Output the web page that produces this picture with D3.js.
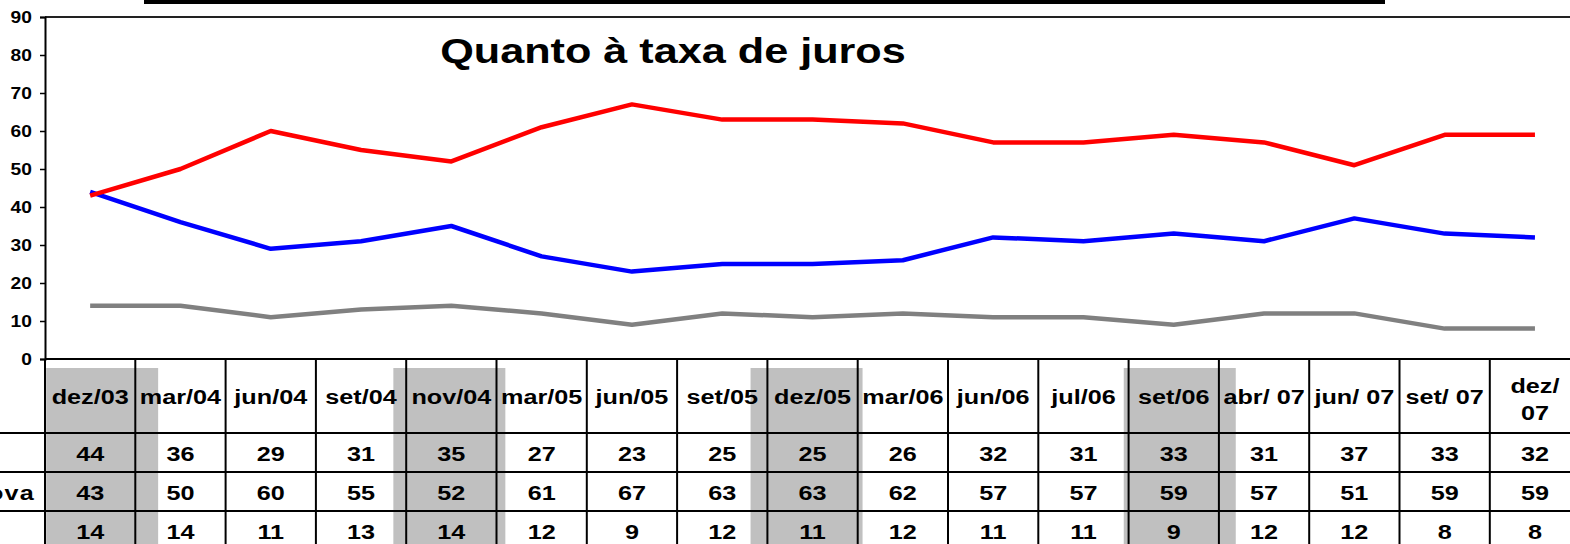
<!DOCTYPE html>
<html>
<head>
<meta charset="utf-8">
<script src="https://cdn.jsdelivr.net/npm/d3@7/dist/d3.min.js"></script>
<style>
    body { margin: 0; background: #fff; }
    svg { display: block; }
    text { font-family: "Liberation Sans", Arial, sans-serif; font-weight: bold; fill: #000; }
</style>
</head>
<body>
<svg id="chart" width="1570" height="544"></svg>
<script>
'use strict';

var TITLE = "Quanto à taxa de juros";

var periods = ["dez/03", "mar/04", "jun/04", "set/04", "nov/04", "mar/05", "jun/05", "set/05",
    "dez/05", "mar/06", "jun/06", "jul/06", "set/06", "abr/ 07", "jun/ 07", "set/ 07", "dez/ 07"];

var aprova    = [44, 36, 29, 31, 35, 27, 23, 25, 25, 26, 32, 31, 33, 31, 37, 33, 32];
var desaprova = [43, 50, 60, 55, 52, 61, 67, 63, 63, 62, 57, 57, 59, 57, 51, 59, 59];
var nsnr      = [14, 14, 11, 13, 14, 12,  9, 12, 11, 12, 11, 11,  9, 12, 12,  8,  8];

var seriesNames = ["Aprova", "Desaprova", "NS/NR"];
var highlighted = ["dez/03", "nov/04", "dez/05", "set/06"];
var yTicks = [0, 10, 20, 30, 40, 50, 60, 70, 80, 90];

// layout
var W = 1570, H = 544;
var plotLeft = 45, colW = 90.3, plotTop = 17, plotBottom = 359;
var headerH = 74, rowH = 39;
var cellFont = 21;
var stretch = 1.2;   // text in the original is horizontally stretched
var colors = ["#0000ff", "#ff0000", "#808080"];
var shadeShift = {"dez/03": 12, "nov/04": -2, "dez/05": -6, "set/06": 6};

var svg = d3.select("#chart");

var x = d3.scaleBand().domain(periods).range([plotLeft, plotLeft + colW * periods.length]);
var y = d3.scaleLinear().domain([0, 90]).range([plotBottom, plotTop]);

function cx(p) {
    return x(p) + x.bandwidth() / 2;
}

function stretchedText(g, tx, ty, str, size, anchor) {
    return g.append("text")
        .attr("transform", "translate(" + tx + "," + ty + ") scale(" + stretch + ",1)")
        .attr("text-anchor", anchor || "middle")
        .style("font-size", size + "px")
        .text(str);
}

// cut-off banner at the very top
svg.append("rect")
    .attr("x", 144).attr("y", -2)
    .attr("width", 1241).attr("height", 6)
    .attr("fill", "#000");

// plot frame top
svg.append("line")
    .attr("x1", plotLeft).attr("x2", W)
    .attr("y1", plotTop).attr("y2", plotTop)
    .attr("stroke", "#222").attr("stroke-width", 2);

stretchedText(svg, 673, 63, TITLE, 36, "middle");

// y axis
var yAxis = svg.append("g")
    .attr("transform", "translate(" + plotLeft + ",0)")
    .call(d3.axisLeft(y).tickValues(yTicks).tickSize(5).tickPadding(6));
yAxis.select(".domain").attr("stroke", "#000").attr("stroke-width", 2);
yAxis.selectAll(".tick line").attr("stroke", "#000").attr("stroke-width", 1.5);
yAxis.selectAll(".tick text")
    .attr("fill", "#000")
    .style("font-size", "16px")
    .style("font-family", "'Liberation Sans', Arial, sans-serif")
    .attr("transform", "scale(" + stretch + ",1)");
yAxis.attr("font-family", null).attr("font-size", null);

// table
var gTable = svg.append("g").attr("class", "table");
var rowTop = [plotBottom + headerH, plotBottom + headerH + rowH, plotBottom + headerH + rowH * 2];

gTable.selectAll("rect.shade")
    .data(highlighted)
    .enter()
    .append("rect")
    .attr("class", "shade")
    .attr("x", function (d) { return Math.max(plotLeft + 1, cx(d) + shadeShift[d] - 56); })
    .attr("width", function (d) {
        var x0 = cx(d) + shadeShift[d] - 56;
        return 112 - Math.max(0, plotLeft + 1 - x0);
    })
    .attr("y", plotBottom + 9)
    .attr("height", H - plotBottom)
    .attr("fill", "#c0c0c0");

gTable.selectAll("line.col")
    .data(periods)
    .enter()
    .append("line")
    .attr("class", "col")
    .attr("x1", function (d) { return x(d); })
    .attr("x2", function (d) { return x(d); })
    .attr("y1", plotBottom).attr("y2", H)
    .attr("stroke", "#000").attr("stroke-width", 2);

gTable.selectAll("line.row")
    .data(rowTop)
    .enter()
    .append("line")
    .attr("class", "row")
    .attr("x1", 0).attr("x2", W)
    .attr("y1", function (d) { return d; })
    .attr("y2", function (d) { return d; })
    .attr("stroke", "#000").attr("stroke-width", 2);

svg.append("line")
    .attr("x1", plotLeft).attr("x2", W)
    .attr("y1", plotBottom).attr("y2", plotBottom)
    .attr("stroke", "#000").attr("stroke-width", 2);

// header labels, wrapped when the visible cell is too narrow
periods.forEach(function (p) {
    var mid = plotBottom + headerH / 2;
    var t = stretchedText(gTable, cx(p), mid + 8, p, cellFont);
    var visible = Math.min(x(p) + x.bandwidth(), W) - x(p);
    if (t.node().getComputedTextLength() * stretch + 6 > visible && p.indexOf(" ") > 0) {
        var parts = p.split(" ");
        t.remove();
        stretchedText(gTable, cx(p), mid - 3, parts[0], cellFont);
        stretchedText(gTable, cx(p), mid + 24, parts[1], cellFont);
    }
});

var series = [aprova, desaprova, nsnr];

series.forEach(function (values, r) {
    var mid = rowTop[r] + rowH / 2;
    values.forEach(function (v, i) {
        stretchedText(gTable, cx(periods[i]), mid + 8, v, cellFont);
    });
});

// row names, cut off by the left edge like in the source
var labels = seriesNames.map(function (name, r) {
    return stretchedText(gTable, 0, rowTop[r] + rowH / 2 + 8, name, cellFont, "start")
        .style("letter-spacing", "1px");
});
var longest = d3.max(labels, function (t) { return t.node().getComputedTextLength(); });
var labelX = 35 - longest * stretch;
labels.forEach(function (t, r) {
    t.attr("transform", "translate(" + labelX + "," + (rowTop[r] + rowH / 2 + 8) + ") scale(" + stretch + ",1)");
});

// lines
var line = d3.line()
    .x(function (d, i) { return cx(periods[i]); })
    .y(function (d) { return y(d); });

var order = [2, 0, 1];
order.forEach(function (r) {
    svg.append("path")
        .datum(series[r])
        .attr("d", line)
        .attr("fill", "none")
        .attr("stroke", colors[r])
        .attr("stroke-width", 4.5)
        .attr("stroke-linejoin", "round");
});
</script>
</body>
</html>
